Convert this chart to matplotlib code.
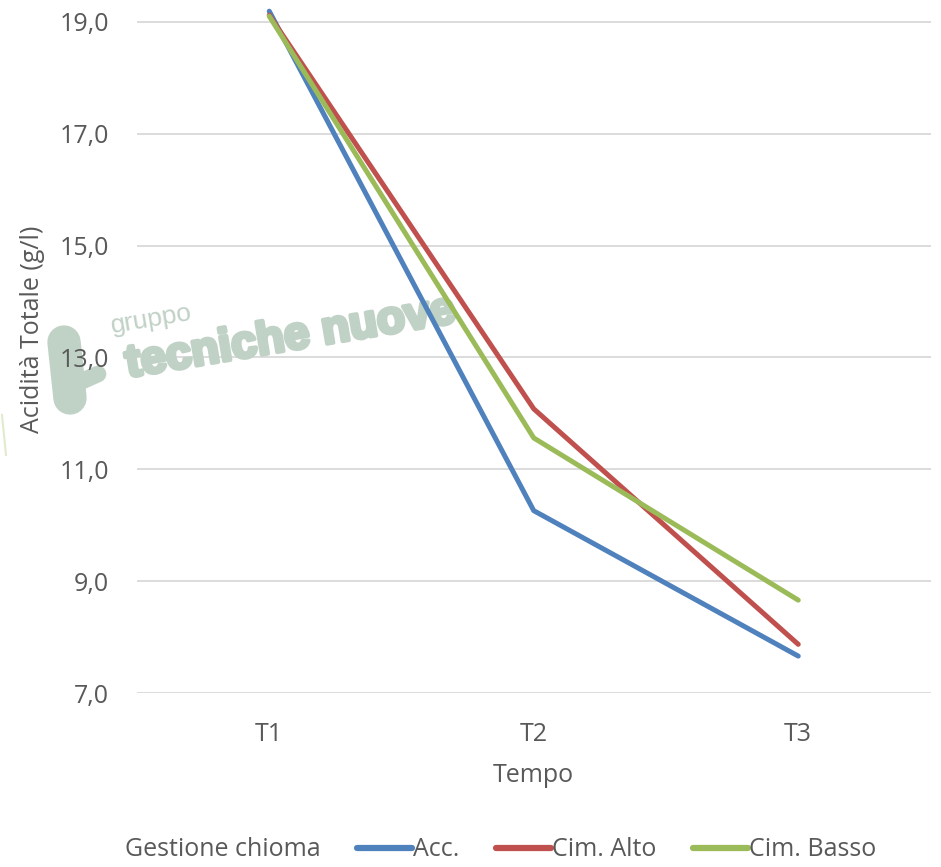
import numpy as np
import matplotlib.pyplot as plt
import matplotlib.patheffects as pe
from matplotlib.lines import Line2D

# Values
TEMPI = ['T1', 'T2', 'T3']
ACC = [19.19, 10.26, 7.66]
CIM_ALTO = [19.12, 12.08, 7.87]
CIM_BASSO = [19.10, 11.56, 8.66]
SERIES_NAMES = ['Acc.', 'Cim. Alto', 'Cim. Basso']
Y_TICKS = [7, 9, 11, 13, 15, 17, 19]

COLORS = ['#4F81BD', '#C0504D', '#9BBB59']
TEXT_COLOR = '#595959'
GRID_COLOR = '#d9d9d9'

plt.rcParams['font.family'] = ['Open Sans', 'DejaVu Sans']

W, H = 941, 867
fig = plt.figure(figsize=(W / 100, H / 100), dpi=100)
ax = fig.add_axes([137 / W, 1 - 693 / H, 793.5 / W, 693 / H])

x = np.arange(len(TEMPI))
for vals, name, col in zip([ACC, CIM_ALTO, CIM_BASSO], SERIES_NAMES, COLORS):
    ax.plot(x, vals, color=col, lw=3.6, solid_capstyle='round',
            solid_joinstyle='round', label=name, zorder=3, clip_on=False)

ax.set_xlim(-0.5, 2.5)
ax.set_ylim(7, 19.39)
ax.set_xticks(x)
ax.set_xticklabels(TEMPI)
ax.set_yticks(Y_TICKS)
ax.set_yticklabels(['{:.1f}'.format(v).replace('.', ',') for v in Y_TICKS])
ax.tick_params(axis='both', length=0, labelsize=18, labelcolor=TEXT_COLOR)
ax.tick_params(axis='y', pad=20)
ax.tick_params(axis='x', pad=21)
for v in Y_TICKS:
    ax.axhline(v, color=GRID_COLOR, lw=1.3, zorder=0.8)
for s in ax.spines.values():
    s.set_visible(False)
ax.yaxis.set_zorder(5)

ax.set_xlabel('Tempo', fontsize=18, color=TEXT_COLOR)
ax.xaxis.label.set_va('center')
ax.xaxis.set_label_coords(0.5, (693 - 775) / 693)
ax.set_ylabel('Acidità Totale (g/l)', fontsize=18, color=TEXT_COLOR)
ax.yaxis.label.set_va('center')
ax.yaxis.set_label_coords((33 - 137) / 793.5, (693 - 329) / 693)

# legend: title on the left, entries in one row
fig.text(125 / W, 1 - 850 / H, 'Gestione chioma', fontsize=18,
         color=TEXT_COLOR, ha='left', va='center')
handles = [Line2D([], [], color=c, lw=4.5, solid_capstyle='round') for c in COLORS]
leg = fig.legend(handles, SERIES_NAMES, loc='center left',
                 bbox_to_anchor=(357 / W, 1 - 850 / H), ncol=3, frameon=False,
                 fontsize=18, handlelength=2.2, handletextpad=0.05,
                 columnspacing=1.45, borderpad=0, borderaxespad=0)
for t in leg.get_texts():
    t.set_color(TEXT_COLOR)

# watermark (under tick labels and data lines)
wm = '#c0d1c5'
ft = fig.transFigure
ax.text(112 / W, 1 - 333 / H, 'gruppo', fontsize=19, color=wm, transform=ft,
        rotation=9.5, rotation_mode='anchor', ha='left', va='baseline',
        zorder=1, clip_on=False, family='Liberation Sans')
ax.text(128 / W, 1 - 377 / H, 'tecniche nuove', fontsize=33, color=wm,
        transform=ft, fontweight='bold', rotation=9.5, rotation_mode='anchor',
        ha='left', va='baseline', zorder=1, clip_on=False,
        family='Liberation Sans',
        path_effects=[pe.withStroke(linewidth=3, foreground=wm)])
for (x0, y0, x1, y1, lw) in [(64, 342, 70, 398, 24), (80, 382, 98, 374, 12)]:
    ax.add_line(Line2D([x0 / W, x1 / W], [1 - y0 / H, 1 - y1 / H], transform=ft,
                       color=wm, lw=lw, solid_capstyle='round', zorder=1,
                       clip_on=False))
ax.add_line(Line2D([2 / W, 6 / W], [1 - 415 / H, 1 - 455 / H], transform=ft,
                   color='#9BBB59', alpha=0.3, lw=1.5, zorder=1, clip_on=False))

fig.savefig('out.png', dpi=100)
